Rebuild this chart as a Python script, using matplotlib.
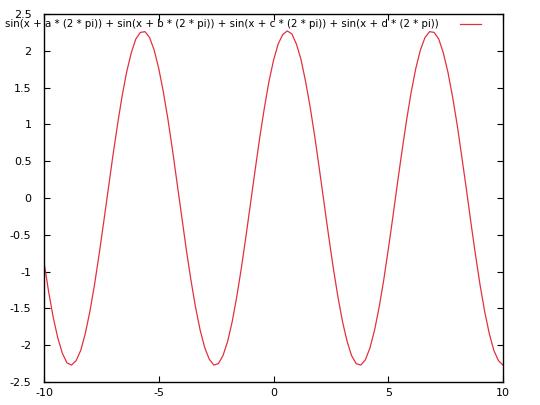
import matplotlib.pyplot as plt

# sample points of the curve
x = [-10.0, -9.8, -9.6, -9.4, -9.2, -9.0, -8.8, -8.6, -8.4, -8.2,
     -8.0, -7.8, -7.6, -7.4, -7.2, -7.0, -6.8, -6.6, -6.4, -6.2,
     -6.0, -5.8, -5.6, -5.4, -5.2, -5.0, -4.8, -4.6, -4.4, -4.2,
     -4.0, -3.8, -3.6, -3.4, -3.2, -3.0, -2.8, -2.6, -2.4, -2.2,
     -2.0, -1.8, -1.6, -1.4, -1.2, -1.0, -0.8, -0.6, -0.4, -0.2,
     0.0, 0.2, 0.4, 0.6, 0.8, 1.0, 1.2, 1.4, 1.6, 1.8,
     2.0, 2.2, 2.4, 2.6, 2.8, 3.0, 3.2, 3.4, 3.6, 3.8,
     4.0, 4.2, 4.4, 4.6, 4.8, 5.0, 5.2, 5.4, 5.6, 5.8,
     6.0, 6.2, 6.4, 6.6, 6.8, 7.0, 7.2, 7.4, 7.6, 7.8,
     8.0, 8.2, 8.4, 8.6, 8.8, 9.0, 9.2, 9.4, 9.6, 9.8, 10.0]
y = [-0.87, -1.27, -1.62, -1.90, -2.11, -2.24, -2.27, -2.21, -2.07, -1.84,
     -1.54, -1.18, -0.77, -0.33, 0.12, 0.57, 0.99, 1.38, 1.71, 1.97,
     2.16, 2.25, 2.26, 2.18, 2.01, 1.76, 1.44, 1.07, 0.65, 0.20,
     -0.25, -0.70, -1.11, -1.48, -1.79, -2.03, -2.19, -2.27, -2.25, -2.14,
     -1.95, -1.68, -1.34, -0.95, -0.52, -0.07, 0.38, 0.82, 1.22, 1.58,
     1.87, 2.09, 2.22, 2.27, 2.23, 2.09, 1.88, 1.58, 1.23, 0.83,
     0.39, -0.06, -0.51, -0.94, -1.33, -1.67, -1.94, -2.14, -2.25, -2.27,
     -2.20, -2.04, -1.80, -1.49, -1.12, -0.70, -0.26, 0.20, 0.64, 1.06,
     1.44, 1.76, 2.01, 2.18, 2.26, 2.25, 2.16, 1.97, 1.71, 1.38,
     1.00, 0.57, 0.13, -0.33, -0.77, -1.18, -1.54, -1.84, -2.07, -2.21, -2.27]

label = "sin(x + a * (2 * pi)) + sin(x + b * (2 * pi)) + sin(x + c * (2 * pi)) + sin(x + d * (2 * pi))"
xticks = [-10, -5, 0, 5, 10]
yticks = [-2.5, -2, -1.5, -1, -0.5, 0, 0.5, 1, 1.5, 2, 2.5]

fig = plt.figure(figsize=(5.4, 4.05), dpi=100)
ax = fig.add_axes([44 / 540, 23 / 405, 459 / 540, 368 / 405])

ax.plot(x, y, color='#e3303e', lw=0.9)
ax.set_xlim(-10, 10)
ax.set_ylim(-2.5, 2.5)
ax.set_xticks(xticks)
ax.set_xticklabels([str(t) for t in xticks])
ax.set_yticks(yticks)
ax.set_yticklabels([('%g' % t) for t in yticks])
ax.tick_params(direction='in', length=4, width=0.8, top=True, right=True,
               labelsize=8, colors='black')
ax.tick_params(axis='y', pad=9)
ax.tick_params(axis='x', pad=4)
for s in ax.spines.values():
    s.set_linewidth(1.0)

# key, gnuplot style: text then a short line sample
fig.text(439 / 540, 1 - 24 / 405, label, ha='right', va='center', fontsize=7.4)
fig.add_artist(plt.Line2D([460 / 540, 481 / 540], [1 - 24 / 405, 1 - 24 / 405],
                          color='#e3303e', lw=0.9))

fig.savefig('out.png', dpi=100)
